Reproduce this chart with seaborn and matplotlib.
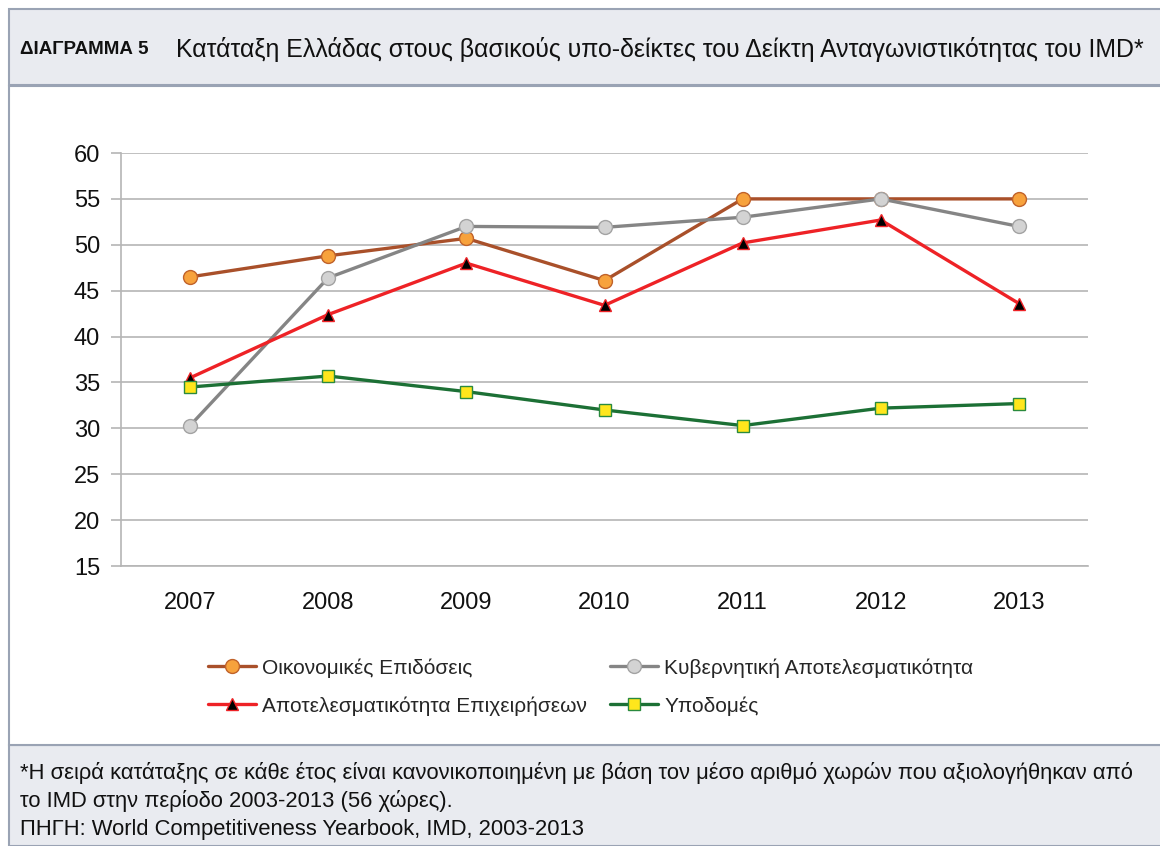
import matplotlib
matplotlib.use("Agg")
import matplotlib.pyplot as plt
import matplotlib.patches as mpatches
import seaborn as sns
import pandas as pd

sns.set_style("white")
plt.rcParams['font.family'] = ['Liberation Sans', 'DejaVu Sans']

years = ["2007", "2008", "2009", "2010", "2011", "2012", "2013"]
oikonomikes = [46.5, 48.8, 50.7, 46.1, 55.0, 55.0, 55.0]
kyvernitiki = [30.3, 46.4, 52.0, 51.9, 53.0, 55.0, 52.0]
epixeiriseis = [35.5, 42.4, 48.0, 43.4, 50.2, 52.7, 43.6]
ypodomes = [34.5, 35.7, 34.0, 32.0, 30.3, 32.2, 32.7]

series_names = ["Οικονομικές Επιδόσεις", "Κυβερνητική Αποτελεσματικότητα",
                "Αποτελεσματικότητα Επιχειρήσεων", "Υποδομές"]
series_values = [oikonomikes, kyvernitiki, epixeiriseis, ypodomes]

# line colour, marker, marker face, marker edge, marker size
styles = {
    "Οικονομικές Επιδόσεις": ("#a9502a", "o", "#f7a23c", "#c0622a", 10),
    "Κυβερνητική Αποτελεσματικότητα": ("#858585", "o", "#d3d3d3", "#a3a3a3", 10),
    "Αποτελεσματικότητα Επιχειρήσεων": ("#ee2226", "^", "black", "#ee2226", 9),
    "Υποδομές": ("#1c7035", "s", "#ffe61c", "#2a8a3e", 9),
}

df = pd.DataFrame({
    "year": years * len(series_names),
    "rank": [v for vals in series_values for v in vals],
    "series": [n for n in series_names for _ in years],
})

fig = plt.figure(figsize=(11.6, 8.46), dpi=100)
W, H = 1160, 846

# header and footer bands + frame (behind the axes)
border = "#9aa3b4"
band = "#e9ebf0"
fig.patches.append(mpatches.Rectangle((9 / W, 1 - 85 / H), 1, 76 / H, transform=fig.transFigure,
                                      facecolor=band, edgecolor=border, lw=1.5, zorder=-2))
fig.patches.append(mpatches.Rectangle((9 / W, 0), 1, 101 / H, transform=fig.transFigure,
                                      facecolor=band, edgecolor=border, lw=1.5, zorder=-2))
fig.patches.append(mpatches.Rectangle((9 / W, 101 / H), 1, (745 - 85 - 1) / H, transform=fig.transFigure,
                                      facecolor="white", edgecolor=border, lw=1.5, zorder=-2))

fig.text(20 / W, 1 - 50 / H, "ΔΙΑΓΡΑΜΜΑ 5", fontsize=13.5, fontweight="bold",
         va="center", ha="left", color="#111111")
fig.text(176 / W, 1 - 49 / H,
         "Κατάταξη Ελλάδας στους βασικούς υπο-δείκτες του Δείκτη Ανταγωνιστικότητας του IMD*",
         fontsize=17.9, va="center", ha="left", color="#111111")

foot = ["*Η σειρά κατάταξης σε κάθε έτος είναι κανονικοποιημένη με βάση τον μέσο αριθμό χωρών που αξιολογήθηκαν από",
        "το IMD στην περίοδο 2003-2013 (56 χώρες).",
        "ΠΗΓΗ: World Competitiveness Yearbook, IMD, 2003-2013"]
for i, line in enumerate(foot):
    fig.text(20 / W, 1 - (773 + 28 * i) / H, line, fontsize=15.8, va="center", ha="left",
             color="#111111")

ax = fig.add_axes([121 / W, 1 - 566 / H, (1088 - 121) / W, (566 - 153) / H])
ax.set_facecolor("none")

for name in series_names:
    lc, mk, mf, me, ms = styles[name]
    sns.lineplot(data=df[df.series == name], x="year", y="rank", ax=ax, color=lc, lw=2.4,
                 marker=mk, markersize=ms, markerfacecolor=mf, markeredgecolor=me,
                 markeredgewidth=1.0, label=name, zorder=3)

ax.set_xlim(-0.5, 6.5)
ax.set_ylim(15, 60)
ax.set_yticks(range(15, 61, 5))
ax.set_xlabel("")
ax.set_ylabel("")
ax.grid(axis="y", color="#b5b5b5", lw=1.2)
for s in ["top", "right"]:
    ax.spines[s].set_visible(False)
ax.spines["left"].set_color("#b5b5b5")
ax.spines["bottom"].set_color("#b5b5b5")
ax.spines["left"].set_linewidth(1.2)
ax.spines["bottom"].set_linewidth(1.2)

ax.set_xticks(range(len(years)))
ax.set_xticklabels(years)
ax.tick_params(axis="x", length=0, labelsize=17, pad=19, colors="#111111")
ax.set_xticks([i - 0.5 for i in range(len(years) + 1)], minor=True)
ax.tick_params(axis="x", which="minor", length=7, color="#b5b5b5", width=1.2, direction="out")
ax.tick_params(axis="y", length=7, width=1.2, labelsize=17, pad=8, left=True,
               colors="#b5b5b5", labelcolor="#111111")

# legend fills column-wise, so reorder to get the reference's row layout
handles, labels = ax.get_legend_handles_labels()
order = [0, 2, 1, 3]
ax.legend([handles[i] for i in order], [labels[i] for i in order],
          loc="upper left", bbox_to_anchor=(208 / W, 1 - 658 / H), bbox_transform=fig.transFigure,
          ncol=2, frameon=False, fontsize=15, columnspacing=1.1, handlelength=2.3,
          handletextpad=0.3, labelspacing=0.9, borderaxespad=0, borderpad=0)

fig.savefig("out.png", dpi=100)
